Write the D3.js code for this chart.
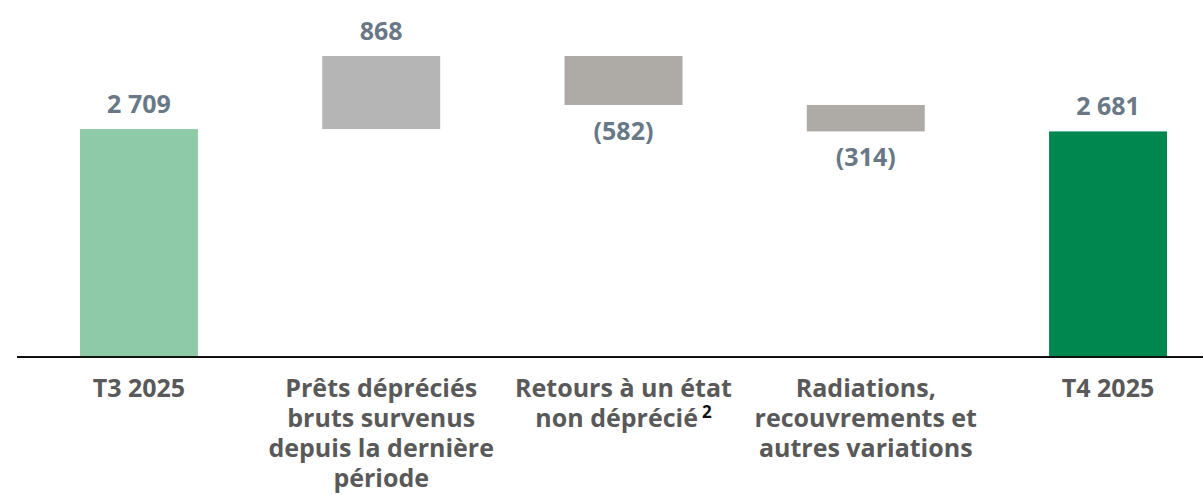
<!DOCTYPE html>
<html>
<head>
<meta charset="utf-8">
<script src="https://cdn.jsdelivr.net/npm/d3@7"></script>
<style>
  html, body { margin: 0; padding: 0; background: #fff; }
  svg { display: block; font-family: "Open Sans", Lato, sans-serif; }
</style>
</head>
<body>
<div id="chart"></div>
<script>
const CATEGORIES = ["T3 2025", "Prêts dépréciés", "Retours", "Radiations", "T4 2025"];
const KINDS = ["total", "delta", "delta", "delta", "total"];
const VALUES = [2709, 868, -582, -314, 2681];
const VALUE_LABELS = ["2 709", "868", "(582)", "(314)", "2 681"];
const CATEGORY_LINES = [
  ["T3 2025"],
  ["Prêts dépréciés", "bruts survenus", "depuis la dernière", "période"],
  ["Retours à un état", "non déprécié"],
  ["Radiations,", "recouvrements et", "autres variations"],
  ["T4 2025"]
];
const FOOTNOTES = [null, null, "2", null, null];

const COLORS = ["#8fcaa8", "#b5b5b5", "#aeaba6", "#aeaba6", "#00874f"];

const WIDTH = 1203;
const HEIGHT = 495;
const BASE_Y = 357;

// waterfall: running start / end for every step
let running = 0;
const steps = CATEGORIES.map((c, i) => {
  let y0, y1;
  if (KINDS[i] === "total") {
    y0 = 0; y1 = VALUES[i]; running = VALUES[i];
  } else {
    y0 = running; y1 = running + VALUES[i]; running = y1;
  }
  return { i, cat: c, value: VALUES[i], label: VALUE_LABELS[i], lo: Math.min(y0, y1), hi: Math.max(y0, y1) };
});

const svg = d3.select("#chart")
  .append("svg")
  .attr("width", WIDTH)
  .attr("height", HEIGHT);

const x = d3.scaleBand()
  .domain(CATEGORIES)
  .range([31.5, 1215.5])
  .paddingInner(0.513)
  .paddingOuter(0.2);

const y = d3.scaleLinear()
  .domain([0, d3.max(steps, d => d.hi)])
  .range([BASE_Y, 56]);

// bars
svg.selectAll("rect.bar")
  .data(steps)
  .enter()
  .append("rect")
  .attr("class", "bar")
  .attr("x", d => x(d.cat))
  .attr("width", x.bandwidth())
  .attr("y", d => y(d.hi))
  .attr("height", d => y(d.lo) - y(d.hi))
  .attr("fill", d => COLORS[d.i]);

// baseline
svg.append("line")
  .attr("x1", 17)
  .attr("x2", WIDTH)
  .attr("y1", BASE_Y)
  .attr("y2", BASE_Y)
  .attr("stroke", "#111")
  .attr("stroke-width", 2);

// value labels, above for increases, below for decreases
svg.selectAll("text.val")
  .data(steps)
  .enter()
  .append("text")
  .attr("class", "val")
  .attr("x", d => x(d.cat) + x.bandwidth() / 2)
  .attr("y", d => d.value < 0 ? y(d.lo) + 35 : y(d.hi) - 16)
  .attr("text-anchor", "middle")
  .attr("font-size", 25)
  .attr("font-weight", 700)
  .attr("fill", "#687887")
  .text(d => d.label);

// category labels
const cat = svg.selectAll("text.cat")
  .data(steps)
  .enter()
  .append("text")
  .attr("class", "cat")
  .attr("x", d => x(d.cat) + x.bandwidth() / 2)
  .attr("y", 397)
  .attr("text-anchor", "middle")
  .attr("font-size", 25)
  .attr("font-weight", 700)
  .attr("fill", "#595959");

cat.each(function(d) {
  const t = d3.select(this);
  const lines = CATEGORY_LINES[d.i];
  lines.forEach((ln, k) => {
    t.append("tspan")
      .attr("x", x(d.cat) + x.bandwidth() / 2)
      .attr("dy", k === 0 ? 0 : 30)
      .text(ln);
    if (k === lines.length - 1 && FOOTNOTES[d.i]) {
      t.append("tspan")
        .attr("dx", 4)
        .attr("dy", -9)
        .attr("font-size", 17)
        .attr("fill", "#111")
        .text(FOOTNOTES[d.i]);
    }
  });
});
</script>
</body>
</html>
